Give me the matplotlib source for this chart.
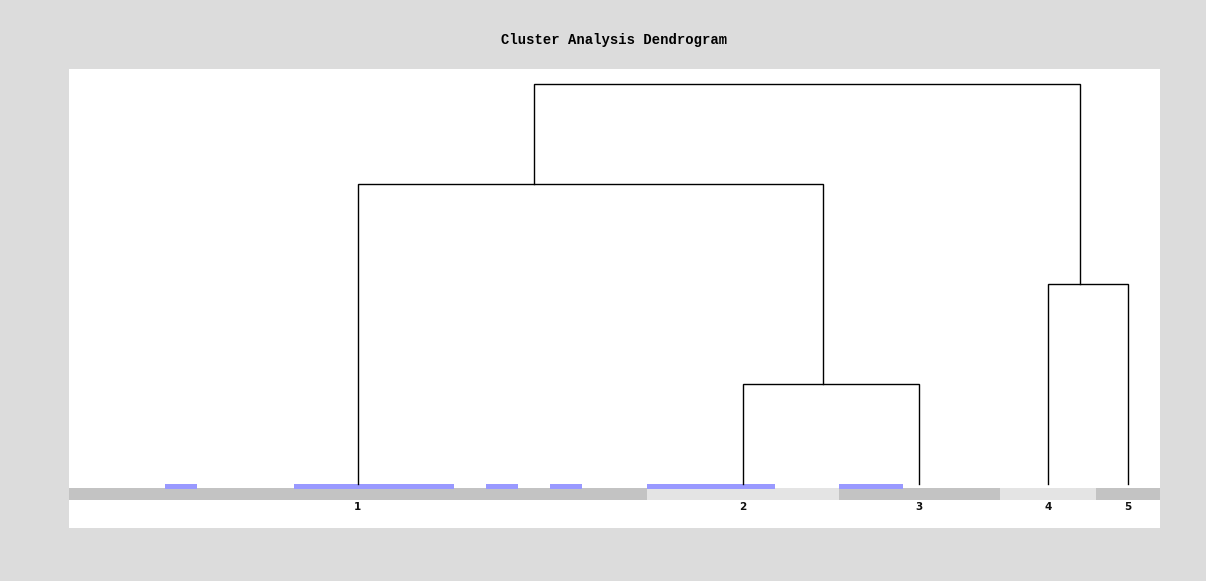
import matplotlib
matplotlib.use("Agg")
import matplotlib.pyplot as plt
from matplotlib.patches import Rectangle

# Cluster memberships (number of items per leaf cluster) and labels
cluster_labels = ["1", "2", "3", "4", "5"]
cluster_sizes = [18, 6, 5, 3, 2]

# Items flagged within the ordered item strip
flagged_items = [3, 7, 8, 9, 10, 11, 13, 15, 18, 19, 20, 21, 24, 25]

# Merge steps: (left node, right node, merge height); nodes 0-4 are leaves,
# new nodes are numbered from 5 in order of creation
merges = [
    (1, 2, 1.0),   # node 5
    (3, 4, 2.0),   # node 6
    (0, 5, 3.0),   # node 7
    (7, 6, 4.0),   # node 8
]

BG = "#dcdcdc"
DARK_BAND = "#c3c3c3"
LIGHT_BAND = "#e4e4e4"
FLAG = "#9999ff"

fig = plt.figure(figsize=(12.06, 5.81), dpi=100, facecolor=BG)
W, H = 1206, 581
left, right, top, bottom = 69, 1160, 69, 528
ax = fig.add_axes([left / W, 1 - bottom / H, (right - left) / W, (bottom - top) / H])
ax.set_facecolor("white")
for s in ax.spines.values():
    s.set_visible(False)
ax.set_xticks([])
ax.set_yticks([])

n_items = sum(cluster_sizes)
ax.set_xlim(0, n_items)
ax.set_ylim(-0.44, 4.15)

# Band of cluster membership, alternating shades
starts = []
pos = 0
for i, size in enumerate(cluster_sizes):
    starts.append(pos)
    color = DARK_BAND if i % 2 == 0 else LIGHT_BAND
    ax.add_patch(Rectangle((pos, -0.16), size, 0.12, facecolor=color,
                           edgecolor="none", zorder=1))
    pos += size

# Flagged items drawn as short blue bars above the band
for idx in flagged_items:
    ax.add_patch(Rectangle((idx, -0.045), 1, 0.045, facecolor=FLAG,
                           edgecolor="none", zorder=2))

# Leaf positions (cluster centres) and labels
node_x = {}
node_size = {}
node_h = {}
for i, (st, size) in enumerate(zip(starts, cluster_sizes)):
    node_x[i] = st + size / 2
    node_size[i] = size
    node_h[i] = 0.0
    ax.text(node_x[i], -0.23, cluster_labels[i], ha="center", va="center",
            fontsize=7.5, fontweight="bold", family="DejaVu Sans",
            color="#111111")

# Dendrogram links, parent placed at size-weighted centre of its children
nid = len(cluster_sizes)
for a, b, h in merges:
    xa, xb = node_x[a], node_x[b]
    ax.plot([xa, xa, xb, xb], [node_h[a], h, h, node_h[b]], color="black",
            lw=1.0, solid_joinstyle="miter", zorder=3)
    node_size[nid] = node_size[a] + node_size[b]
    node_x[nid] = (xa * node_size[a] + xb * node_size[b]) / node_size[nid]
    node_h[nid] = h
    nid += 1

fig.text(0.509, 1 - 40 / H, "Cluster Analysis Dendrogram", ha="center",
         va="center", fontsize=10, fontweight="bold", family="Liberation Mono")

fig.savefig("out.png", dpi=100, facecolor=BG)
